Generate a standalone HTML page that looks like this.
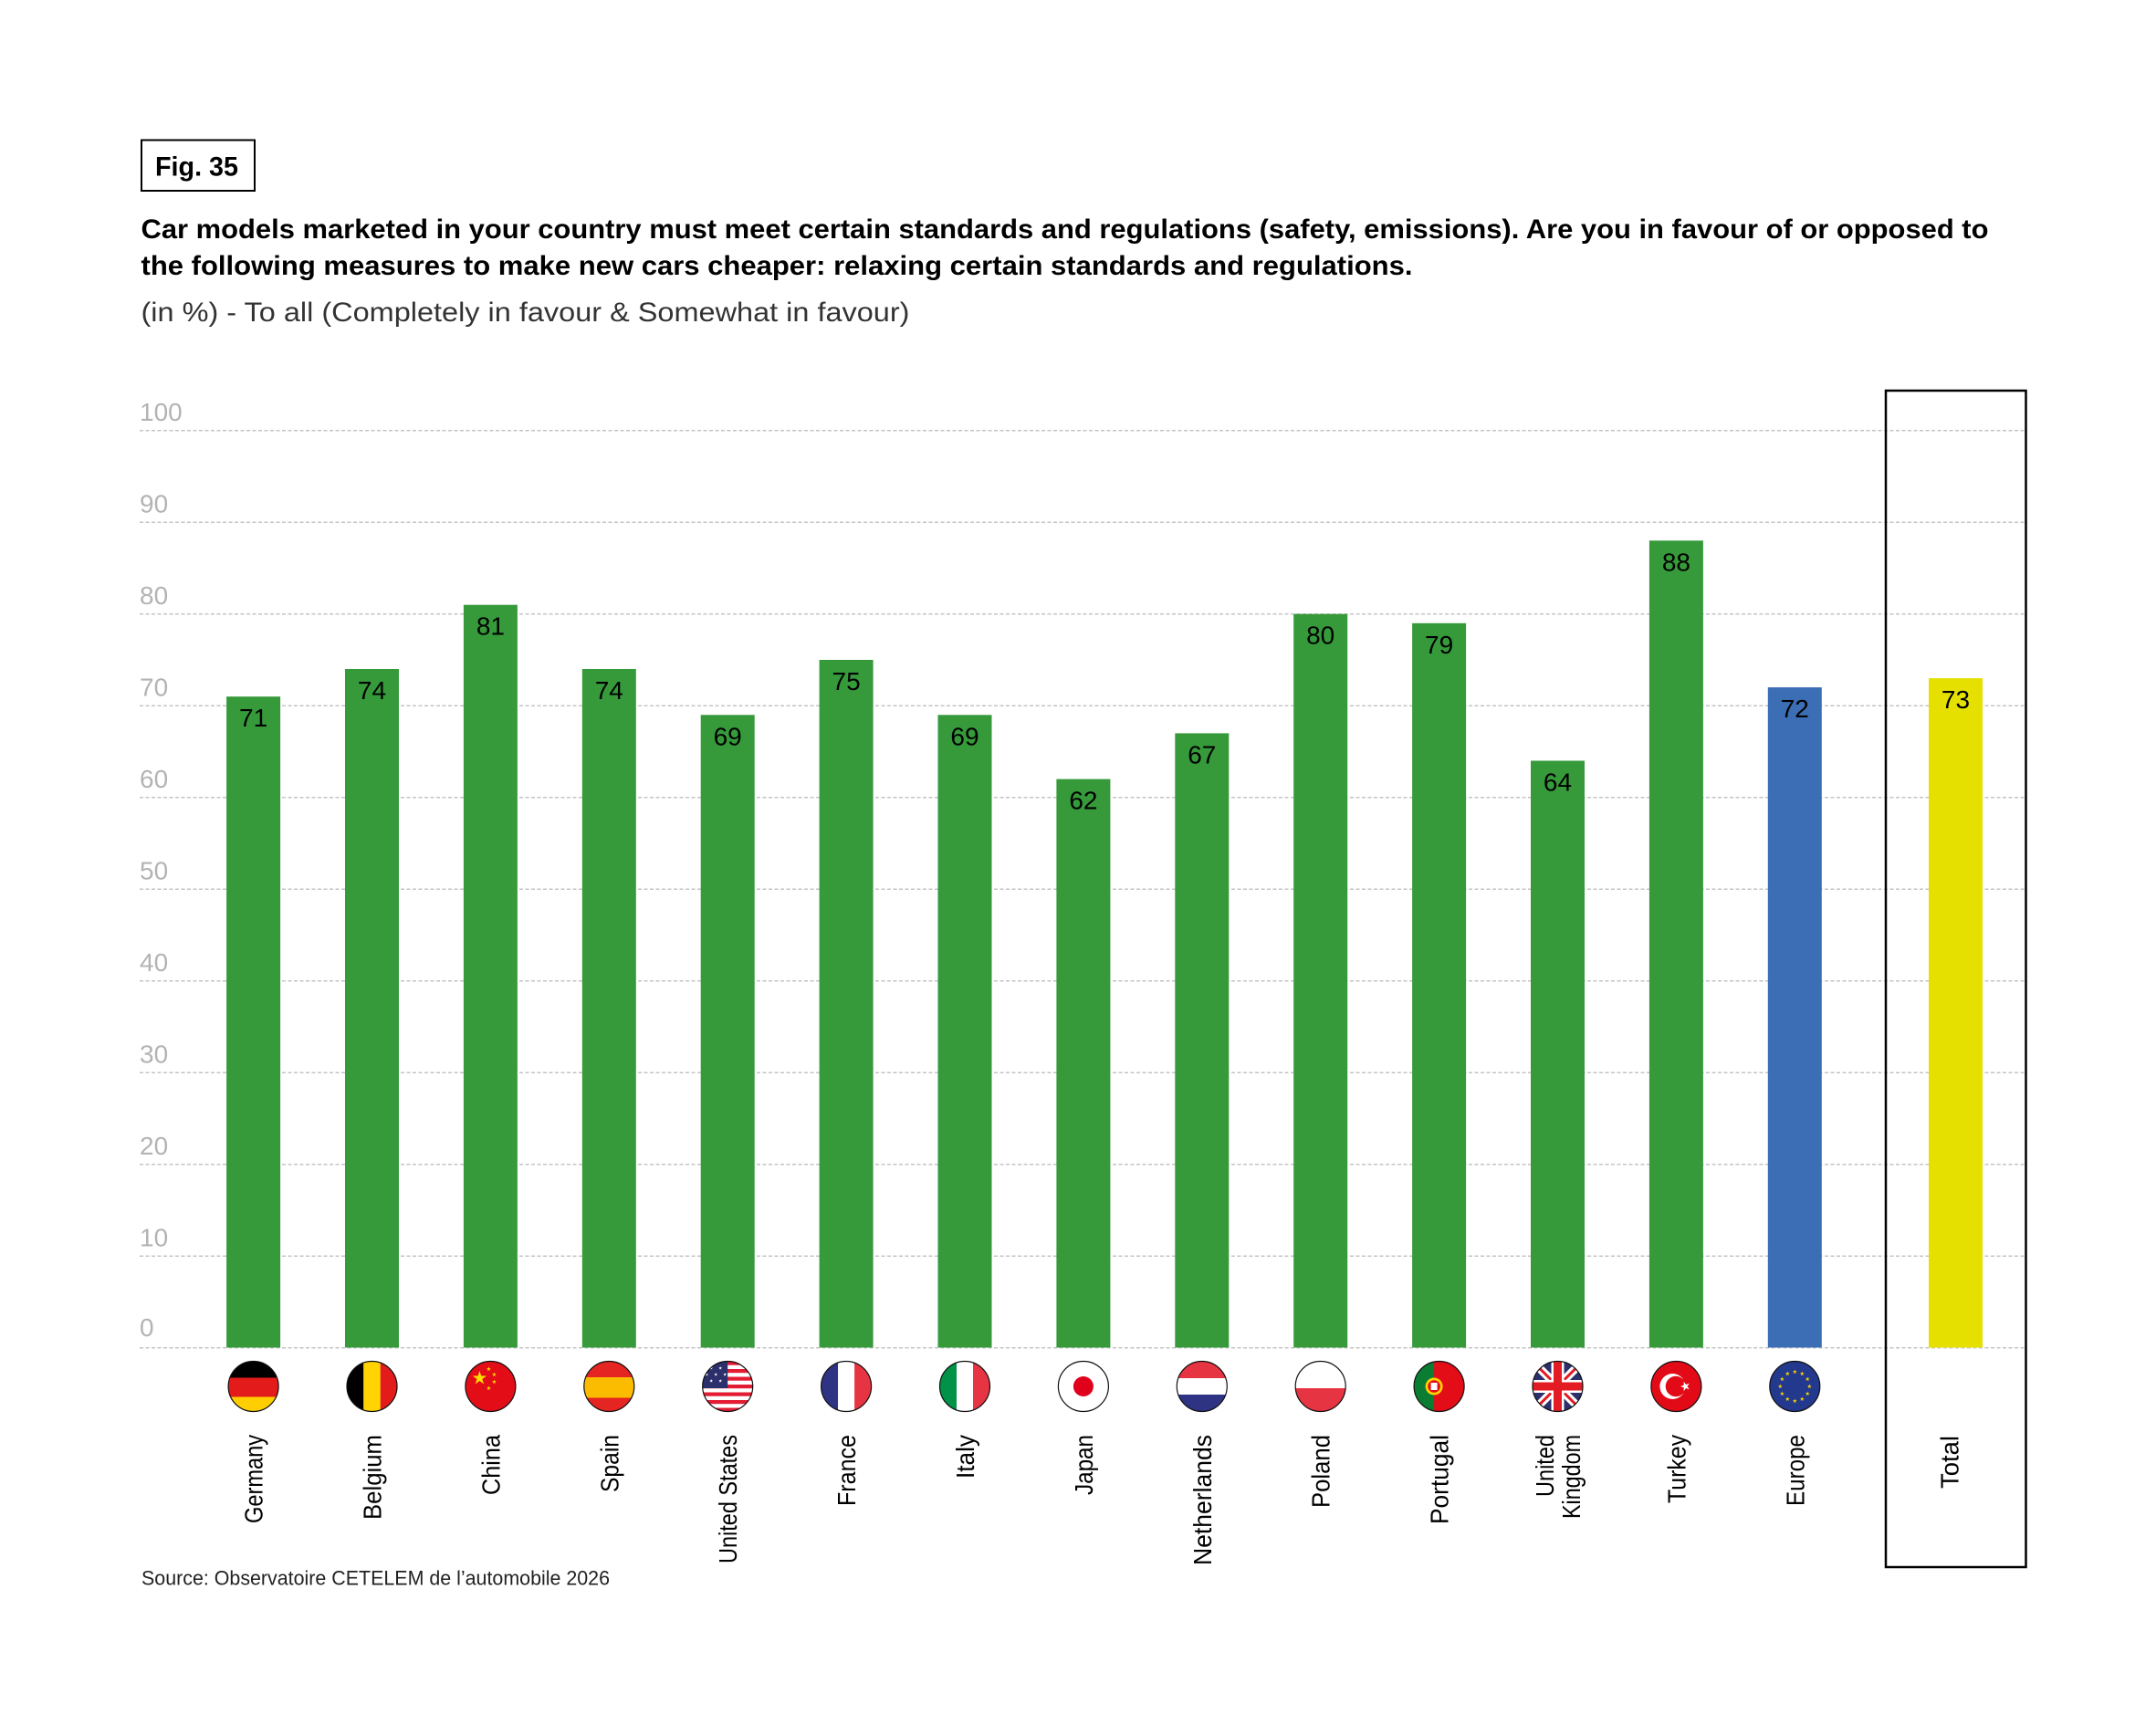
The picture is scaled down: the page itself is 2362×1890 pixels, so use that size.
<!DOCTYPE html>
<html><head><meta charset="utf-8"><style>
html,body{margin:0;padding:0;background:#fff;}
svg{display:block;}
text{font-family:"Liberation Sans",Arial,sans-serif;}
</style></head><body>
<svg xmlns="http://www.w3.org/2000/svg" width="2362" height="1890" viewBox="0 0 2362 1890">
<defs>
<polygon id="st" points="0,-1 0.2245,-0.309 0.951,-0.309 0.363,0.118 0.588,0.809 0,0.382 -0.588,0.809 -0.363,0.118 -0.951,-0.309 -0.2245,-0.309"/>
<clipPath id="cc" clipPathUnits="userSpaceOnUse"><circle cx="0" cy="0" r="27.5"/></clipPath>
</defs>
<rect width="2362" height="1890" fill="#fff"/>

<!-- Fig box -->
<rect x="155" y="153.5" width="124" height="55.5" fill="none" stroke="#000" stroke-width="2"/>
<text x="170" y="192.5" font-size="30" font-weight="bold" fill="#000" textLength="91" lengthAdjust="spacingAndGlyphs">Fig. 35</text>

<!-- Title -->
<text x="154.5" y="261" font-size="29.5" font-weight="bold" fill="#000" textLength="2024" lengthAdjust="spacingAndGlyphs">Car models marketed in your country must meet certain standards and regulations (safety, emissions). Are you in favour of or opposed to</text>
<text x="154.5" y="301" font-size="29.5" font-weight="bold" fill="#000" textLength="1393" lengthAdjust="spacingAndGlyphs">the following measures to make new cars cheaper: relaxing certain standards and regulations.</text>
<text x="154.5" y="352" font-size="30" fill="#333" textLength="842" lengthAdjust="spacingAndGlyphs">(in %) - To all (Completely in favour &amp; Somewhat in favour)</text>

<!-- Gridlines -->
<g stroke="#c4c4c4" stroke-width="1.5" stroke-dasharray="4 2.5">
<line x1="153" y1="471.7" x2="2219" y2="471.7"/>
<line x1="153" y1="572.2" x2="2219" y2="572.2"/>
<line x1="153" y1="672.7" x2="2219" y2="672.7"/>
<line x1="153" y1="773.2" x2="2219" y2="773.2"/>
<line x1="153" y1="873.7" x2="2219" y2="873.7"/>
<line x1="153" y1="974.2" x2="2219" y2="974.2"/>
<line x1="153" y1="1074.7" x2="2219" y2="1074.7"/>
<line x1="153" y1="1175.2" x2="2219" y2="1175.2"/>
<line x1="153" y1="1275.7" x2="2219" y2="1275.7"/>
<line x1="153" y1="1376.2" x2="2219" y2="1376.2"/>
<line x1="153" y1="1476.7" x2="2219" y2="1476.7"/>
</g>

<!-- Tick labels -->
<g font-size="28" fill="#b3b3b3">
<text x="153" y="461">100</text>
<text x="153" y="561.5">90</text>
<text x="153" y="662">80</text>
<text x="153" y="762.5">70</text>
<text x="153" y="863">60</text>
<text x="153" y="963.5">50</text>
<text x="153" y="1064">40</text>
<text x="153" y="1164.5">30</text>
<text x="153" y="1265">20</text>
<text x="153" y="1365.5">10</text>
<text x="153" y="1464">0</text>
</g>

<!-- Total box -->
<rect x="2066" y="428" width="153.5" height="1289" fill="none" stroke="#000" stroke-width="2.5"/>

<!-- Bars -->
<g fill="#369a3b">
<rect x="248.1" y="763.2" width="59" height="713.3"/>
<rect x="378.0" y="733.0" width="59" height="743.5"/>
<rect x="507.9" y="662.7" width="59" height="813.8"/>
<rect x="637.8" y="733.0" width="59" height="743.5"/>
<rect x="767.7" y="783.3" width="59" height="693.2"/>
<rect x="897.6" y="723.0" width="59" height="753.5"/>
<rect x="1027.5" y="783.3" width="59" height="693.2"/>
<rect x="1157.4" y="853.6" width="59" height="622.9"/>
<rect x="1287.3" y="803.4" width="59" height="673.1"/>
<rect x="1417.2" y="672.7" width="59" height="803.8"/>
<rect x="1547.1" y="682.8" width="59" height="793.7"/>
<rect x="1677.0" y="833.5" width="59" height="643.0"/>
<rect x="1806.9" y="592.3" width="59" height="884.2"/>
</g>
<rect x="1936.8" y="753.1" width="59" height="723.4" fill="#3c6eb5"/>
<rect x="2113" y="743.1" width="59" height="733.4" fill="#e6e000"/>

<!-- Value labels -->
<g font-size="28" fill="#000" text-anchor="middle">
<text x="277.6" y="796.2">71</text>
<text x="407.5" y="766">74</text>
<text x="537.4" y="695.7">81</text>
<text x="667.3" y="766">74</text>
<text x="797.2" y="816.3">69</text>
<text x="927.1" y="756">75</text>
<text x="1057.0" y="816.3">69</text>
<text x="1186.9" y="886.6">62</text>
<text x="1316.8" y="836.4">67</text>
<text x="1446.7" y="705.7">80</text>
<text x="1576.6" y="715.8">79</text>
<text x="1706.5" y="866.5">64</text>
<text x="1836.4" y="625.3">88</text>
<text x="1966.3" y="786.1">72</text>
<text x="2142.5" y="776.1">73</text>
</g>

<!-- Flags -->
<!-- Germany -->
<g transform="translate(277.6,1519)"><g clip-path="url(#cc)">
<rect x="-28" y="-28" width="56" height="18.5" fill="#000"/>
<rect x="-28" y="-9.5" width="56" height="21" fill="#e31b1b"/>
<rect x="-28" y="11.5" width="56" height="17" fill="#ffce00"/>
</g><circle r="27.5" fill="none" stroke="#111" stroke-width="1.2"/></g>
<!-- Belgium -->
<g transform="translate(407.5,1519)"><g clip-path="url(#cc)">
<rect x="-28" y="-28" width="18.8" height="56" fill="#000"/>
<rect x="-9.2" y="-28" width="18.4" height="56" fill="#ffd400"/>
<rect x="9.2" y="-28" width="19" height="56" fill="#e31b1b"/>
</g><circle r="27.5" fill="none" stroke="#111" stroke-width="1.2"/></g>
<!-- China -->
<g transform="translate(537.4,1519)"><g clip-path="url(#cc)">
<rect x="-28" y="-28" width="56" height="56" fill="#e30d17"/>
<g fill="#ffde00">
<use href="#st" transform="translate(-12,-9) scale(8)"/>
<use href="#st" transform="translate(-2,-19) scale(2.6)"/>
<use href="#st" transform="translate(4,-13) scale(2.6)"/>
<use href="#st" transform="translate(4,-5) scale(2.6)"/>
<use href="#st" transform="translate(-2,2) scale(2.6)"/>
</g>
</g><circle r="27.5" fill="none" stroke="#111" stroke-width="1.2"/></g>
<!-- Spain -->
<g transform="translate(667.3,1519)"><g clip-path="url(#cc)">
<rect x="-28" y="-28" width="56" height="56" fill="#e52521"/>
<rect x="-28" y="-10" width="56" height="22.5" fill="#fbbc00"/>
</g><circle r="27.5" fill="none" stroke="#111" stroke-width="1.2"/></g>
<!-- United States -->
<g transform="translate(797.2,1519)"><g clip-path="url(#cc)">
<rect x="-28" y="-28" width="56" height="56" fill="#fff"/>
<g fill="#e31b33">
<rect x="-28" y="-27.5" width="56" height="4.2"/>
<rect x="-28" y="-19" width="56" height="4.2"/>
<rect x="-28" y="-10.5" width="56" height="4.2"/>
<rect x="-28" y="-2" width="56" height="4.2"/>
<rect x="-28" y="6.5" width="56" height="4.2"/>
<rect x="-28" y="15" width="56" height="4.2"/>
<rect x="-28" y="23.5" width="56" height="4.5"/>
</g>
<rect x="-28" y="-28" width="28" height="30" fill="#2b2f6b"/>
<g fill="#fff">
<use href="#st" transform="translate(-18,-20) scale(2)"/>
<use href="#st" transform="translate(-8,-20) scale(2)"/>
<use href="#st" transform="translate(-23,-13) scale(2)"/>
<use href="#st" transform="translate(-13,-13) scale(2)"/>
<use href="#st" transform="translate(-3,-13) scale(2)"/>
<use href="#st" transform="translate(-18,-6) scale(2)"/>
<use href="#st" transform="translate(-8,-6) scale(2)"/>
</g>
</g><circle r="27.5" fill="none" stroke="#111" stroke-width="1.2"/></g>
<!-- France -->
<g transform="translate(927.1,1519)"><g clip-path="url(#cc)">
<rect x="-28" y="-28" width="19" height="56" fill="#2e3384"/>
<rect x="-9" y="-28" width="18" height="56" fill="#fff"/>
<rect x="9" y="-28" width="19" height="56" fill="#e63442"/>
</g><circle r="27.5" fill="none" stroke="#111" stroke-width="1.2"/></g>
<!-- Italy -->
<g transform="translate(1057.0,1519)"><g clip-path="url(#cc)">
<rect x="-28" y="-28" width="19" height="56" fill="#009246"/>
<rect x="-9" y="-28" width="18" height="56" fill="#fff"/>
<rect x="9" y="-28" width="19" height="56" fill="#e63442"/>
</g><circle r="27.5" fill="none" stroke="#111" stroke-width="1.2"/></g>
<!-- Japan -->
<g transform="translate(1186.9,1519)">
<circle r="27.5" fill="#fff" stroke="#111" stroke-width="1.2"/>
<circle r="11" fill="#e0001b"/></g>
<!-- Netherlands -->
<g transform="translate(1316.8,1519)"><g clip-path="url(#cc)">
<rect x="-28" y="-28" width="56" height="19" fill="#e63442"/>
<rect x="-28" y="-9" width="56" height="18" fill="#fff"/>
<rect x="-28" y="9" width="56" height="19" fill="#2e3384"/>
</g><circle r="27.5" fill="none" stroke="#111" stroke-width="1.2"/></g>
<!-- Poland -->
<g transform="translate(1446.7,1519)"><g clip-path="url(#cc)">
<rect x="-28" y="-28" width="56" height="30" fill="#fff"/>
<rect x="-28" y="2" width="56" height="26" fill="#e63442"/>
</g><circle r="27.5" fill="none" stroke="#111" stroke-width="1.2"/></g>
<!-- Portugal -->
<g transform="translate(1576.6,1519)"><g clip-path="url(#cc)">
<rect x="-28" y="-28" width="56" height="56" fill="#e30d17"/>
<rect x="-28" y="-28" width="22.5" height="56" fill="#0a7d33"/>
<circle cx="-5.5" cy="0" r="9.5" fill="#ffd400"/>
<circle cx="-5.5" cy="0" r="6.8" fill="#e30d17"/>
<rect x="-9" y="-4" width="7" height="8" fill="#fff"/>
</g><circle r="27.5" fill="none" stroke="#111" stroke-width="1.2"/></g>
<!-- United Kingdom -->
<g transform="translate(1706.5,1519)"><g clip-path="url(#cc)">
<rect x="-28" y="-28" width="56" height="56" fill="#2b2f6b"/>
<line x1="-28" y1="-28" x2="28" y2="28" stroke="#fff" stroke-width="9"/>
<line x1="-28" y1="28" x2="28" y2="-28" stroke="#fff" stroke-width="9"/>
<line x1="-28" y1="-28" x2="28" y2="28" stroke="#e31b23" stroke-width="3"/>
<line x1="-28" y1="28" x2="28" y2="-28" stroke="#e31b23" stroke-width="3"/>
<rect x="-7" y="-28" width="14" height="56" fill="#fff"/>
<rect x="-28" y="-7" width="56" height="14" fill="#fff"/>
<rect x="-4.5" y="-28" width="9" height="56" fill="#e31b23"/>
<rect x="-28" y="-4.5" width="56" height="9" fill="#e31b23"/>
</g><circle r="27.5" fill="none" stroke="#111" stroke-width="1.2"/></g>
<!-- Turkey -->
<g transform="translate(1836.4,1519)"><g clip-path="url(#cc)">
<rect x="-28" y="-28" width="56" height="56" fill="#e30a17"/>
<circle cx="-4" cy="0" r="14" fill="#fff"/>
<circle cx="-0.5" cy="0" r="11.2" fill="#e30a17"/>
<use href="#st" transform="translate(10,0) rotate(-90) scale(5.5)" fill="#fff"/>
</g><circle r="27.5" fill="none" stroke="#111" stroke-width="1.2"/></g>
<!-- Europe -->
<g transform="translate(1966.3,1519)"><g clip-path="url(#cc)">
<rect x="-28" y="-28" width="56" height="56" fill="#22398e"/>
<g fill="#ffd400">
<use href="#st" transform="translate(0,-16) scale(2.6)"/>
<use href="#st" transform="translate(8,-13.9) scale(2.6)"/>
<use href="#st" transform="translate(13.9,-8) scale(2.6)"/>
<use href="#st" transform="translate(16,0) scale(2.6)"/>
<use href="#st" transform="translate(13.9,8) scale(2.6)"/>
<use href="#st" transform="translate(8,13.9) scale(2.6)"/>
<use href="#st" transform="translate(0,16) scale(2.6)"/>
<use href="#st" transform="translate(-8,13.9) scale(2.6)"/>
<use href="#st" transform="translate(-13.9,8) scale(2.6)"/>
<use href="#st" transform="translate(-16,0) scale(2.6)"/>
<use href="#st" transform="translate(-13.9,-8) scale(2.6)"/>
<use href="#st" transform="translate(-8,-13.9) scale(2.6)"/>
</g>
</g><circle r="27.5" fill="none" stroke="#111" stroke-width="1.2"/></g>

<!-- Category labels -->
<g font-size="27.5" fill="#000" text-anchor="end">
<text transform="translate(287.6,1572) rotate(-90)" textLength="97" lengthAdjust="spacingAndGlyphs">Germany</text>
<text transform="translate(417.5,1572) rotate(-90)" textLength="93" lengthAdjust="spacingAndGlyphs">Belgium</text>
<text transform="translate(547.4,1572) rotate(-90)" textLength="66" lengthAdjust="spacingAndGlyphs">China</text>
<text transform="translate(677.3,1572) rotate(-90)" textLength="63" lengthAdjust="spacingAndGlyphs">Spain</text>
<text transform="translate(807.2,1572) rotate(-90)" textLength="141" lengthAdjust="spacingAndGlyphs">United States</text>
<text transform="translate(937.1,1572) rotate(-90)" textLength="78" lengthAdjust="spacingAndGlyphs">France</text>
<text transform="translate(1067.0,1572) rotate(-90)" textLength="48" lengthAdjust="spacingAndGlyphs">Italy</text>
<text transform="translate(1196.9,1572) rotate(-90)" textLength="66" lengthAdjust="spacingAndGlyphs">Japan</text>
<text transform="translate(1326.8,1572) rotate(-90)" textLength="143" lengthAdjust="spacingAndGlyphs">Netherlands</text>
<text transform="translate(1456.7,1572) rotate(-90)" textLength="80" lengthAdjust="spacingAndGlyphs">Poland</text>
<text transform="translate(1586.6,1572) rotate(-90)" textLength="98" lengthAdjust="spacingAndGlyphs">Portugal</text>
<text transform="translate(1702,1572) rotate(-90)" textLength="68" lengthAdjust="spacingAndGlyphs">United</text>
<text transform="translate(1731,1572) rotate(-90)" textLength="92" lengthAdjust="spacingAndGlyphs">Kingdom</text>
<text transform="translate(1846.4,1572) rotate(-90)" textLength="75" lengthAdjust="spacingAndGlyphs">Turkey</text>
<text transform="translate(1976.3,1572) rotate(-90)" textLength="78" lengthAdjust="spacingAndGlyphs">Europe</text>
<text transform="translate(2145.5,1573) rotate(-90)" textLength="58" lengthAdjust="spacingAndGlyphs">Total</text>
</g>

<!-- Source -->
<text x="155" y="1736.5" font-size="22" fill="#222" textLength="513" lengthAdjust="spacingAndGlyphs">Source: Observatoire CETELEM de l’automobile 2026</text>
</svg>
</body></html>
